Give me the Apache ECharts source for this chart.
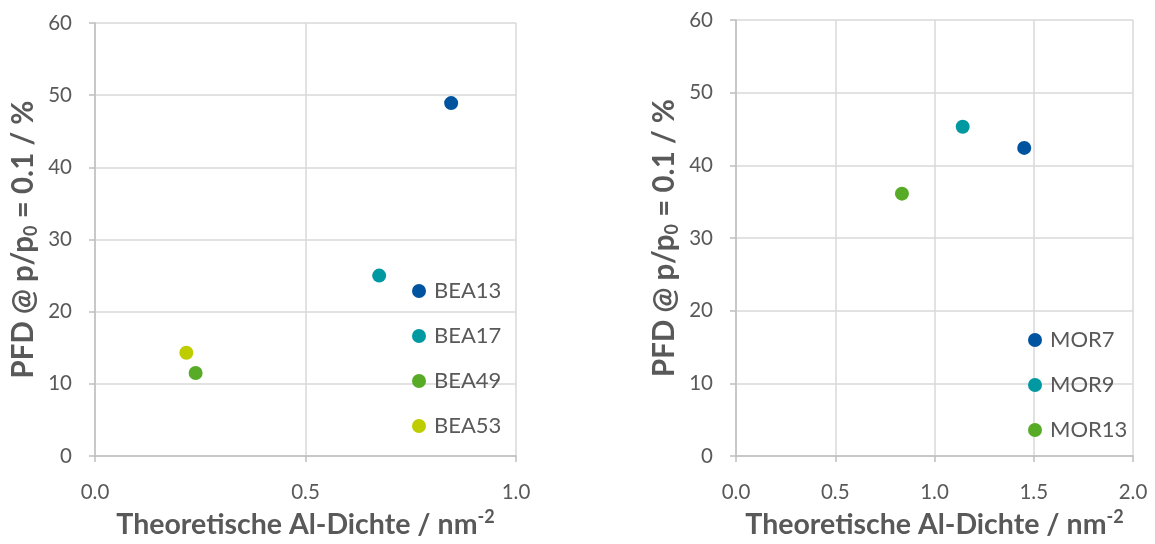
<!DOCTYPE html>
<html><head><meta charset="utf-8">
<script src="https://cdn.jsdelivr.net/npm/echarts@6/dist/echarts.min.js"></script>
<style>html,body{margin:0;padding:0;background:#fff}#c{width:1155px;height:544px}</style>
</head><body><div id="c"></div>
<script>
const beaNames = ['BEA13', 'BEA17', 'BEA49', 'BEA53'];
const beaX = [0.846, 0.675, 0.239, 0.217];
const beaY = [48.9, 25.0, 11.5, 14.3];
const morNames = ['MOR7', 'MOR9', 'MOR13'];
const morX = [1.452, 1.142, 0.836];
const morY = [42.4, 45.3, 36.1];
const beaColors = ['#00549F', '#0098A1', '#57AB27', '#BDCD00'];
const morColors = ['#00549F', '#0098A1', '#57AB27'];
const leftXTicks = {min: 0, max: 1, interval: 0.5};
const rightXTicks = {min: 0, max: 2, interval: 0.5};
const yTicks = {min: 0, max: 60, interval: 10};

const FONT = 'Lato';
const txt = '#595959';
const gridCol = '#d9d9d9';
const axCol = '#bfbfbf';

function xAxis(idx, t) {
  return {
    type: 'value', gridIndex: idx, min: t.min, max: t.max, interval: t.interval,
    axisLine: {show: true, lineStyle: {color: axCol, width: 1.5}},
    axisTick: {show: true, length: 6, lineStyle: {color: axCol, width: 1.5}},
    splitLine: {show: true, lineStyle: {color: gridCol, width: 1.5}},
    axisLabel: {color: txt, fontSize: 20.5, fontFamily: FONT, margin: 26, formatter: v => v.toFixed(1)},
    name: '{a|Theoretische Al-Dichte / nm}{s|-2}',
    nameLocation: 'middle', nameGap: 52,
    nameTextStyle: {
      rich: {
        a: {fontSize: 28.5, fontWeight: 'bold', color: txt, fontFamily: FONT, lineHeight: 31, verticalAlign: 'bottom'},
        s: {fontSize: 18, fontWeight: 'bold', color: txt, fontFamily: FONT, lineHeight: 14, verticalAlign: 'top'}
      }
    }
  };
}
function yAxis(idx) {
  return {
    type: 'value', gridIndex: idx, min: yTicks.min, max: yTicks.max, interval: yTicks.interval,
    axisLine: {show: true, lineStyle: {color: axCol, width: 1.5}},
    axisTick: {show: true, length: 6, lineStyle: {color: axCol, width: 1.5}},
    splitLine: {show: true, lineStyle: {color: gridCol, width: 1.5}},
    axisLabel: {color: txt, fontSize: 20.5, fontFamily: FONT, margin: 23},
    name: '{a|PFD @ p/p}{s|0}{a| = 0.1 / %}',
    nameLocation: 'middle', nameGap: 55, nameRotate: 90,
    nameTextStyle: {
      rich: {
        a: {fontSize: 29.5, fontWeight: 'bold', color: txt, fontFamily: FONT, lineHeight: 32, verticalAlign: 'top'},
        s: {fontSize: 18, fontWeight: 'bold', color: txt, fontFamily: FONT, lineHeight: 10, verticalAlign: 'bottom'}
      }
    }
  };
}

const series = [];
beaNames.forEach((n, i) => series.push({
  name: n, type: 'scatter', xAxisIndex: 0, yAxisIndex: 0, symbolSize: 14,
  itemStyle: {color: beaColors[i], opacity: 1}, data: [[beaX[i], beaY[i]]]
}));
morNames.forEach((n, i) => series.push({
  name: n, type: 'scatter', xAxisIndex: 1, yAxisIndex: 1, symbolSize: 14,
  itemStyle: {color: morColors[i], opacity: 1}, data: [[morX[i], morY[i]]]
}));

const legendCommon = {
  orient: 'vertical', icon: 'circle', itemWidth: 14, itemHeight: 14, itemGap: 23,
  textStyle: {color: txt, fontSize: 22, fontFamily: FONT, lineHeight: 22, padding: [0, 0, 0, 3]},
  selectedMode: false
};

const chart = echarts.init(document.getElementById('c'), null, {renderer: 'canvas'});
chart.setOption({
  animation: false,
  backgroundColor: '#fff',
  grid: [
    {left: 95, right: 639, top: 23, bottom: 86},
    {left: 736, right: 22, top: 20, bottom: 85}
  ],
  xAxis: [xAxis(0, leftXTicks), xAxis(1, rightXTicks)],
  yAxis: [yAxis(0), yAxis(1)],
  legend: [
    Object.assign({data: beaNames, left: 407, top: 275}, legendCommon),
    Object.assign({data: morNames, left: 1023, top: 324}, legendCommon)
  ],
  series: series
});
</script></body></html>
